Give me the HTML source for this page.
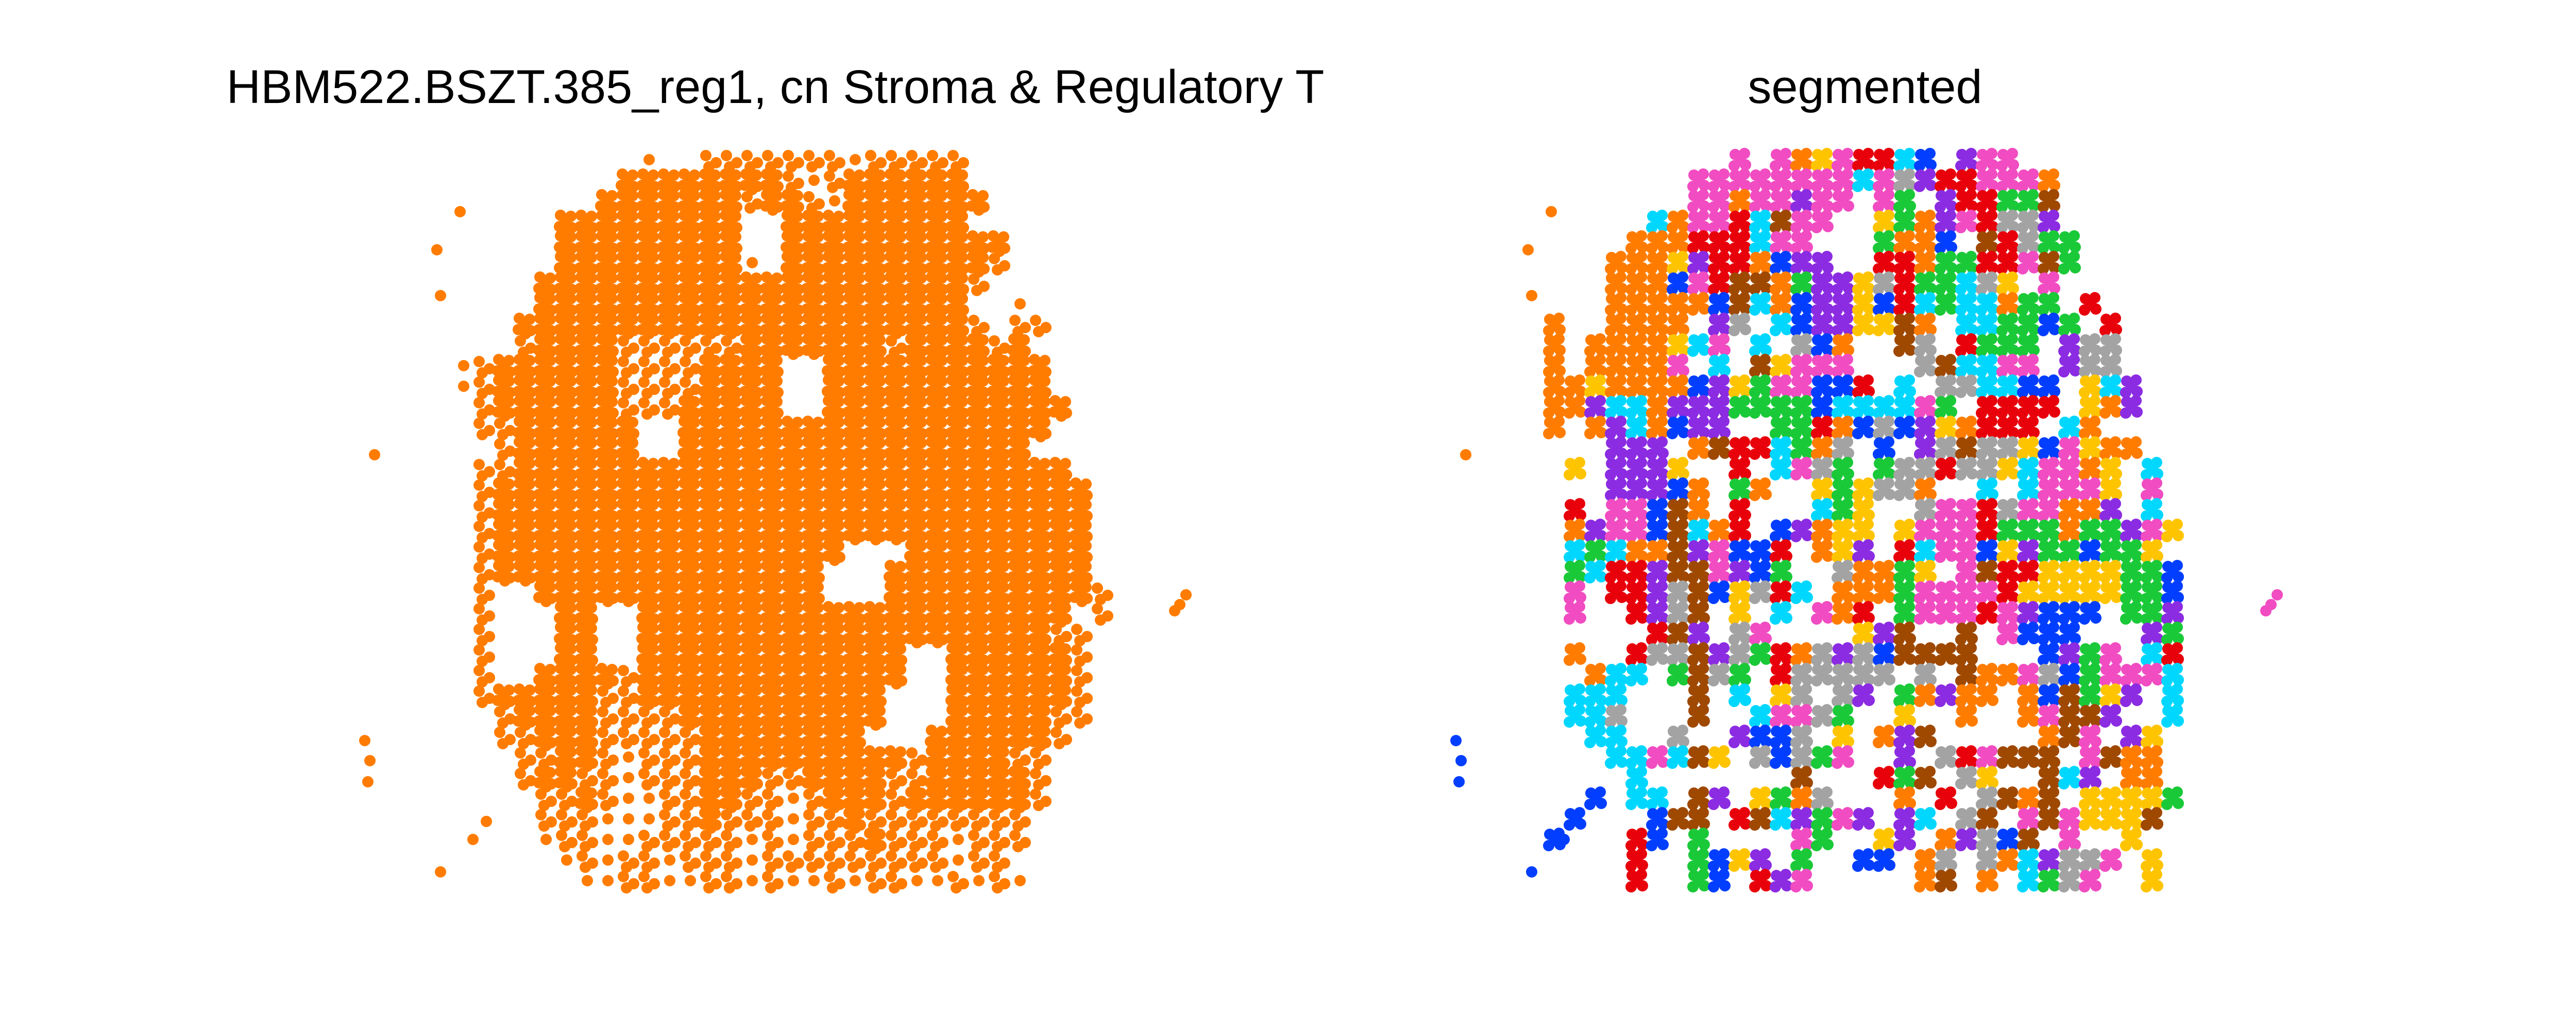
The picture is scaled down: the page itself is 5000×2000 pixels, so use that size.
<!DOCTYPE html>
<html><head><meta charset="utf-8">
<style>
html,body{margin:0;padding:0;background:#fff;}
#wrap{width:5000px;height:2000px;position:relative;overflow:hidden;}
svg text{font-family:"Liberation Sans","DejaVu Sans",sans-serif;}
</style></head>
<body>
<div id="wrap">
<svg id="fig" width="5000" height="2000" viewBox="0 0 5000 2000">
<text x="1505" y="200" font-size="92" text-anchor="middle" fill="#000">HBM522.BSZT.385_reg1, cn Stroma &amp; Regulatory T</text>
<text x="3620" y="200" font-size="92" text-anchor="middle" fill="#000">segmented</text>
<g id="left"></g>
<g id="right"></g>
</svg>
</div>
<script>
// density mask of cells (left panel): '#' dense, '+' medium, '-' sparse
const densityRows = [
"         -  +++++++-+++++",
"        ########+-+######",
"       #######+##+-#######",
"     #########  #########",
"     #########  ###########",
"     #########- ##########+",
"    #####################+",
"    #####################  -",
"   ######################+ ++",
"   +####++++++#######+####+#",
"-+######++++####  ###########",
"-+######++++####  ###########",
" +######+++#####  ############",
" ++######  ##################",
"  +######  #################",
" ++###########################",
" +#############################",
" +#############################",
" +#############################",
" +#################   #########",
" +################   ##########",
" +  ##############   ##########+",
" +   ##  ##################### +",
" +   ##  ####################++",
" +   ##  #############  ######+",
" +  ####+#############  ######+",
" +#####++############   ######+",
"  +####++++##########   #####++",
"  ++###+++++########   ######+",
"   ++##+-+++##########+####++",
"   +##++-+++###++####++#####+",
"    ++#+--++##++-+###+######+",
"    +++---++#+++-++#++++++++",
"    -++--+++++-+-+++#+++-+++",
"     -+-++-+++-+++++++++-++",
"      --++--++-+--+-++--+-+-"
];
// segment colour per cell (segmented panel); space = no point
const segmentRows = [
"         p poyprrcb vpp",
"       ppppppppcpkvrrpppo",
"       ppoppvpp pg vrrggn",
"     copprcnpp  ygovprkkv",
"    ooorrrcpp   goob nrkgg",
"   oooyvrrobvv  rroggrrpng",
"   ooobprnnogvvykrggcky p",
"   ooooobncobvvybrcgccogg r",
"o  oooo vk cbvvyyno ccggbg r",
"o ooooycp c kbo  nk rggg vkk",
"o oooop c nyppp   knccpp vkk",
"ooyoooobvygppbbr c kkccbb ycv",
"oovccovvvggggbccccpg rrrr yov",
"o ovcobvv  ggrobkbvyorrr co",
"   vvv onrrcgok b vknkkybpyoo",
" y vvvy  r cpkg gkkrkkycppoy c",
"   vvvbo go  ygykko  c cpppy p",
" r ppbno r   cgy  kpprkppoov c",
" ovppbncor bvoyy yppprgggoggvpy",
" cgcoonvpbbr oyv rcppbyvggbggy",
" gcrrvnnpvbg  koogy pnrryyyyggb",
" p rrvknbykrc ooogppppryyyyyggb",
" p  rvkn y c por gppprpvbbb ggv",
"     rnv kp    yvn  n pbbb   vg",
" o  rkknvkgrokvkbnnnn   bvgp cr",
"  occ gnkg rkkkkk k noopkbgpppc",
" ccc   n c yk kv govoo obngyv c",
" cck   n  cppkg  y  o  opnnv  c",
"  cc  k  vbbk y ovn     onp vy",
"   ccpcny kbkgp  v krpnnn pnoo",
"    c       n   rgn ky  ncv oo",
"  b cc nv ygok   o r knon yyyyg",
" b   bnn rncvgpv vc kn pnpyyyn",
"b   rb g    pg  yv ovkbn p  y",
"    r  gbyv g  bb ok kocvkkp y",
"    r  gb rvp     on o cgkp  y"
];
// isolated outlier cells (x, y in data px of left panel) and their segment colour
const outlierX = [727, 893, 848, 855, 708, 718, 714, 855, 944, 918, 2290, 2302, 2280];
const outlierY = [883, 411, 485, 574, 1438, 1477, 1518, 1693, 1595, 1630, 1174, 1155, 1186];
const outlierSeg = ["o","o","o","o","b","b","b","b","b","b","p","p","p"];

const palette = {o:"#ff7c00",p:"#f14cc1",r:"#e8000b",c:"#00d7ff",g:"#1ac938",b:"#023eff",v:"#8b2be2",y:"#ffc400",k:"#a3a3a3",n:"#9f4800"};
const NS = "http://www.w3.org/2000/svg";
const x0 = 880, y0 = 290, cell = 40, panelShift = 2118;
const colX = c => x0 + c*cell;
const rowY = r => y0 + r*cell;
const patterns = {
  "#": [[8,8],[28,10],[18,20],[6,30],[30,32],[20,38]],
  "+": [[10,12],[30,26],[16,34]],
  "-": [[20,20]]
};
const segPattern = [[10,10],[28,8],[20,22],[8,32],[30,30]];
function dot(g, cx, cy, fill, name){
  const c = document.createElementNS(NS,"circle");
  c.setAttribute("cx", cx); c.setAttribute("cy", cy); c.setAttribute("r", 11);
  c.setAttribute("fill", fill);
  
  
  g.appendChild(c);
}
const gL = document.getElementById("left"), gR = document.getElementById("right");
densityRows.forEach((row, r) => {
  for (let c = 0; c < row.length; c++) {
    const pts = patterns[row[c]];
    if (!pts) continue;
    pts.forEach(([dx,dy]) => dot(gL, colX(c) + dx, rowY(r) + dy, palette.o, "cell-point"));
  }
});
segmentRows.forEach((row, r) => {
  for (let c = 0; c < row.length; c++) {
    const col = palette[row[c]];
    if (!col) continue;
    segPattern.forEach(([dx,dy]) => dot(gR, colX(c) + panelShift + dx, rowY(r) + dy, col, "segmented-point"));
  }
});
outlierX.forEach((x, i) => {
  dot(gL, x, outlierY[i], palette.o, "outlier-point");
  dot(gR, x + panelShift, outlierY[i], palette[outlierSeg[i]], "segmented-outlier-point");
});
</script>
</body></html>
